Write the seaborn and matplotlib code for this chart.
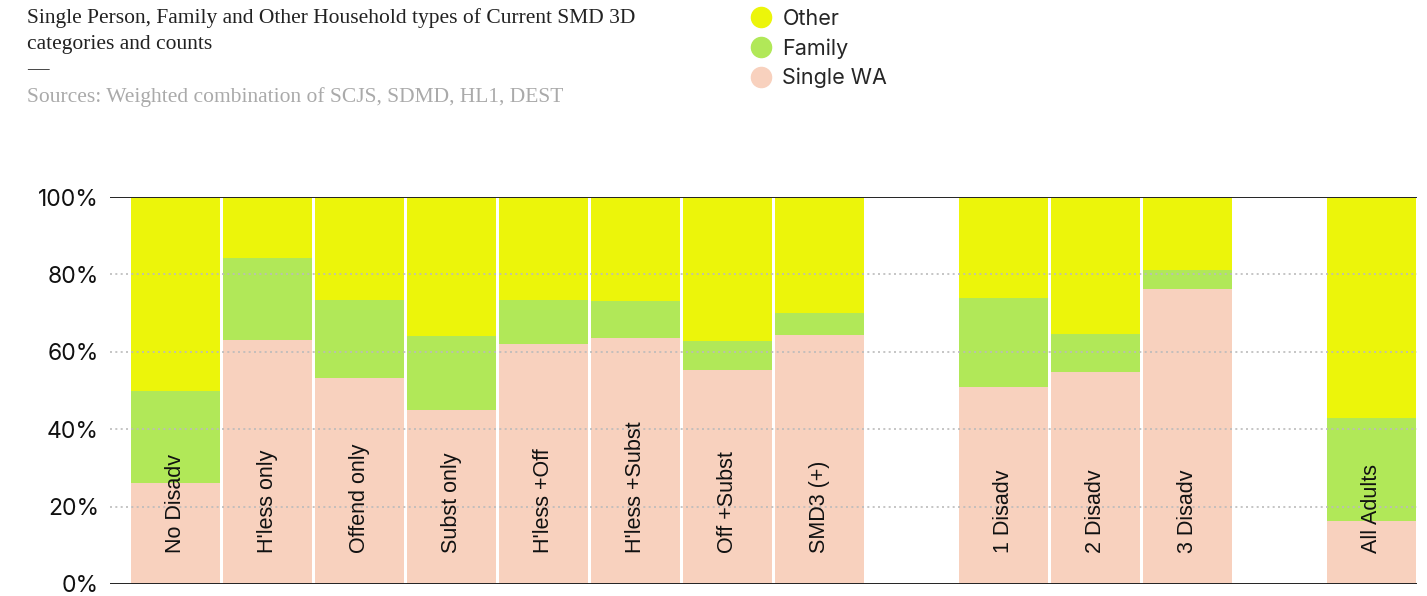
import matplotlib
matplotlib.use("Agg")
import matplotlib.pyplot as plt
from matplotlib.lines import Line2D
import numpy as np
import seaborn as sns

# categories as shown, blanks are the empty gap slots
categories = ["No Disadv", "H'less only", "Offend only", "Subst only", "H'less +Off",
              "H'less +Subst", "Off +Subst", "SMD3 (+)", "1 Disadv", "2 Disadv",
              "3 Disadv", "All Adults"]
order = categories[:8] + [" "] + categories[8:11] + ["  "] + categories[11:]

# shares in %
single_wa = [26.2, 63.0, 53.2, 45.0, 62.0, 63.6, 55.3, 64.3, 50.9, 54.8, 76.2, 16.3]
family = [23.7, 21.2, 20.2, 19.2, 11.4, 9.5, 7.5, 5.7, 23.0, 9.8, 4.9, 26.6]
other = [50.1, 15.8, 26.6, 35.8, 26.6, 26.9, 37.2, 30.0, 26.1, 35.4, 18.9, 57.1]

col_other = "#ecf50a"
col_family = "#b1e858"
col_single = "#f8d1be"

sns.set_style("white")
plt.rcParams["font.family"] = ["Liberation Sans", "DejaVu Sans"]

W, H = 1427, 596
fig = plt.figure(figsize=(W / 100, H / 100), dpi=100)
ax = fig.add_axes([110 / W, 12 / H, 1307 / W, 387 / H])

s = np.array(single_wa)
f = np.array(family)
o = np.array(other)

# stacked: draw the tallest first
for vals, c in [(s + f + o, col_other), (s + f, col_family), (s, col_single)]:
    sns.barplot(x=categories, y=vals, order=order, color=c, width=0.967,
                saturation=1, linewidth=0, ax=ax, zorder=1)

ax.set_ylim(0, 100)
ax.set_xlim(-0.712, 13.49)
ax.set_yticks([0, 20, 40, 60, 80, 100])
ax.set_yticklabels(["0%", "20%", "40%", "60%", "80%", "100%"],
                   fontsize=16.5, family=["Inter", "DejaVu Sans"], color="#111111")
ax.tick_params(axis="y", length=0, pad=8)
ax.set_xticks([])
ax.set_xlabel("")
ax.set_ylabel("")
for sp in ax.spines.values():
    sp.set_visible(False)

# grid over the bars, solid lines at 0 and 100
for yv in [20, 40, 60, 80]:
    ax.axhline(yv, color="#bbbbbb", lw=1.2, ls=(0, (1.2, 2)), zorder=3)
ax.axhline(0, color="#222222", lw=1.4, zorder=4)
ax.axhline(100, color="#222222", lw=1.4, zorder=4)

# category names inside the bars
for cat in categories:
    ax.text(order.index(cat), 8, cat, rotation=90, ha="center", va="bottom",
            fontsize=15.5, color="#111111", zorder=5)

# title block
serif = ["Liberation Serif", "DejaVu Serif"]
fig.text(27 / W, 1 - 18 / H, "Single Person, Family and Other Household types of Current SMD 3D",
         family=serif, fontsize=15.5, color="#222222", va="center")
fig.text(27 / W, 1 - 44 / H, "categories and counts",
         family=serif, fontsize=15.5, color="#222222", va="center")
fig.text(27 / W, 1 - 70 / H, "—", family=serif, fontsize=15.5, color="#222222", va="center")
fig.text(27 / W, 1 - 97 / H, "Sources: Weighted combination of SCJS, SDMD, HL1, DEST",
         family=serif, fontsize=15.5, color="#aaaaaa", va="center")

handles = [Line2D([], [], marker="o", ls="", markersize=14.5, color=c, label=l)
           for c, l in [(col_other, "Other"), (col_family, "Family"), (col_single, "Single WA")]]
fig.legend(handles=handles, loc="upper left", bbox_to_anchor=(750 / W, 1 - 9 / H), frameon=False,
           handletextpad=0.5, labelspacing=0.42, borderpad=0.0, borderaxespad=0,
           handlelength=1.0, prop={"family": ["Inter", "DejaVu Sans"], "size": 15.5})

fig.savefig("out.png", dpi=100)
